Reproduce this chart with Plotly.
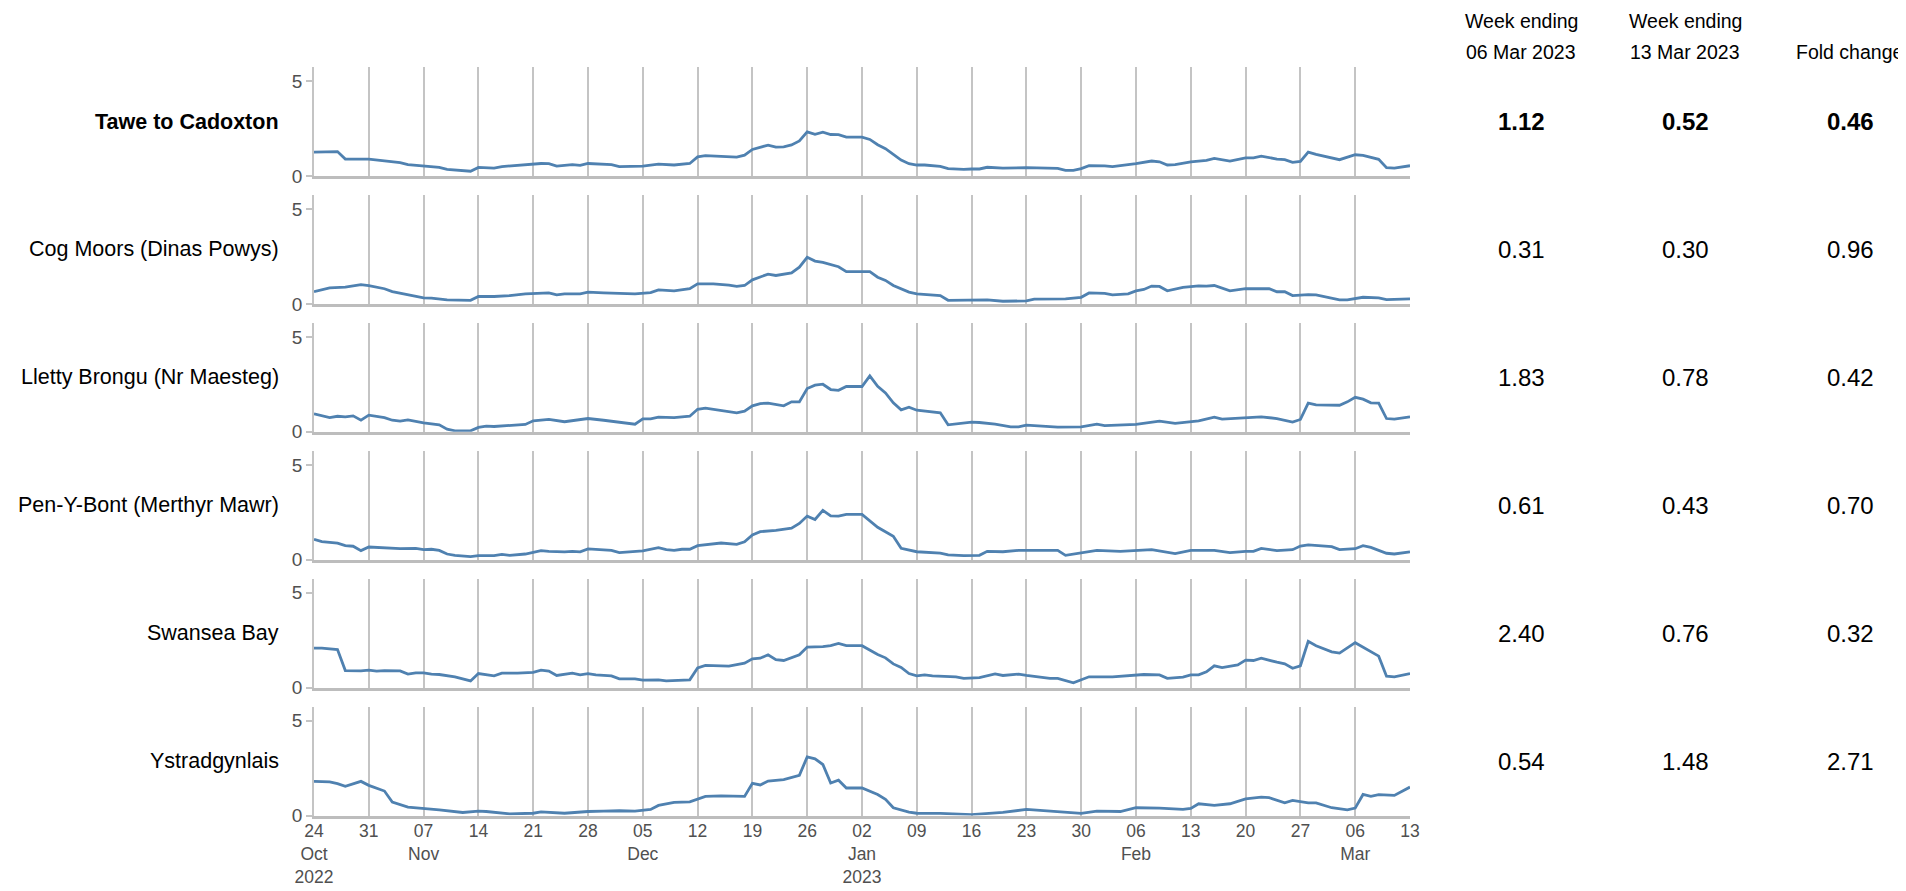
import pandas as pd
import plotly.graph_objects as go

# ---------------- data ----------------
start_date = "2022-10-24"
end_date = "2023-03-13"

sites = ["Tawe to Cadoxton", "Cog Moors (Dinas Powys)", "Lletty Brongu (Nr Maesteg)",
         "Pen-Y-Bont (Merthyr Mawr)", "Swansea Bay", "Ystradgynlais"]

# day offsets from 24 Oct 2022 and values
tawe_days = [0,3,4,7,9,11,12,14,16,17,20,21,23,24,28,29,30,31,33,34,35,38,39,42,44,46,48,49,50,54,
             55,56,58,59,60,61,62,63,64,65,66,67,68,70,71,72,73,75,76,77,78,80,81,83,84,85,86,88,91,95,
             96,97,98,99,101,102,105,107,108,109,110,112,114,115,117,119,120,121,123,124,125,126,127,128,131,132,133,134,136,137,
             138,140]
tawe_vals = [1.26,1.29,0.89,0.89,0.80,0.70,0.60,0.54,0.45,0.35,0.25,0.45,0.42,0.50,0.63,0.66,0.65,0.52,0.60,0.56,
             0.66,0.60,0.49,0.52,0.63,0.58,0.66,1.01,1.07,1.00,1.10,1.40,1.63,1.52,1.54,1.64,1.85,2.33,2.20,2.31,
             2.19,2.18,2.05,2.05,1.93,1.65,1.44,0.84,0.65,0.58,0.58,0.51,0.39,0.35,0.37,0.37,0.46,0.42,0.44,0.40,
             0.30,0.30,0.39,0.54,0.53,0.49,0.65,0.79,0.75,0.58,0.60,0.75,0.82,0.93,0.79,0.96,0.96,1.05,0.89,0.86,
             0.72,0.77,1.26,1.14,0.86,0.98,1.12,1.09,0.88,0.44,0.42,0.54]

cog_days = [0,2,4,6,7,9,10,12,14,15,17,20,21,23,25,27,30,31,32,34,35,37,39,41,43,44,46,48,49,51,
            53,54,55,56,58,59,61,62,63,64,65,66,67,68,71,72,73,74,76,77,80,81,84,86,88,91,92,96,98,99,
            101,102,104,105,106,107,108,109,111,113,114,115,117,119,122,123,124,125,127,128,131,132,134,136,137,140]
cog_vals = [0.65,0.85,0.88,1.02,0.97,0.80,0.65,0.48,0.32,0.30,0.21,0.19,0.39,0.39,0.44,0.53,0.58,0.48,0.53,0.53,
            0.62,0.58,0.55,0.53,0.60,0.74,0.69,0.80,1.06,1.06,0.99,0.92,0.97,1.27,1.57,1.50,1.64,1.94,2.46,2.26,
            2.19,2.08,1.96,1.70,1.70,1.41,1.24,0.97,0.62,0.53,0.44,0.19,0.19,0.21,0.14,0.16,0.25,0.27,0.35,0.58,
            0.55,0.48,0.53,0.69,0.76,0.94,0.92,0.69,0.87,0.95,0.94,0.97,0.69,0.80,0.80,0.64,0.64,0.44,0.49,0.48,
            0.21,0.21,0.35,0.32,0.23,0.27]

lletty_days = [0,2,3,4,5,6,7,9,10,11,12,14,16,17,18,20,21,22,23,25,27,28,30,32,34,35,37,39,41,42,
               43,44,46,48,49,50,52,53,54,55,56,57,58,60,61,62,63,64,65,66,67,68,70,71,72,73,74,75,76,77,
               79,80,81,83,84,85,87,89,90,91,94,95,98,100,101,104,105,108,110,113,115,116,119,121,123,125,126,127,128,130,
               131,132,133,134,135,136,137,138,140]
lletty_vals = [0.95,0.75,0.82,0.79,0.84,0.61,0.88,0.75,0.61,0.56,0.63,0.47,0.37,0.14,0.05,0.05,0.23,0.30,0.28,0.33,
               0.39,0.58,0.65,0.53,0.63,0.70,0.61,0.49,0.40,0.68,0.68,0.77,0.75,0.82,1.19,1.25,1.12,1.05,1.00,1.09,
               1.37,1.49,1.51,1.37,1.58,1.58,2.28,2.46,2.51,2.23,2.19,2.39,2.39,2.95,2.40,2.05,1.53,1.16,1.30,1.14,
               1.02,1.00,0.37,0.44,0.51,0.49,0.40,0.26,0.26,0.35,0.30,0.25,0.26,0.40,0.33,0.37,0.39,0.56,0.44,0.58,
               0.77,0.67,0.75,0.79,0.70,0.51,0.65,1.51,1.42,1.39,1.40,1.58,1.82,1.72,1.53,1.51,0.70,0.67,0.79]

pen_days = [0,1,3,4,5,6,7,9,11,13,14,15,16,17,18,20,21,23,24,25,27,29,30,32,33,34,35,38,39,42,
            44,45,46,47,48,49,52,54,55,56,57,59,61,62,63,64,65,66,67,68,70,72,74,75,77,80,81,83,85,86,
            88,90,93,95,96,98,100,103,105,107,110,112,115,117,119,120,121,123,125,126,127,130,131,133,134,135,137,138,140]
pen_vals = [1.08,0.95,0.87,0.74,0.71,0.48,0.67,0.64,0.58,0.60,0.53,0.55,0.49,0.30,0.23,0.16,0.21,0.21,0.28,0.23,
            0.30,0.48,0.44,0.41,0.44,0.41,0.57,0.49,0.37,0.46,0.64,0.53,0.49,0.55,0.55,0.74,0.88,0.81,0.94,1.31,
            1.48,1.55,1.66,1.91,2.30,2.12,2.60,2.31,2.30,2.39,2.39,1.71,1.24,0.60,0.42,0.35,0.25,0.21,0.23,0.44,
            0.42,0.49,0.48,0.49,0.23,0.35,0.49,0.44,0.48,0.53,0.32,0.49,0.49,0.37,0.44,0.44,0.60,0.48,0.53,0.72,
            0.78,0.69,0.53,0.58,0.74,0.65,0.34,0.30,0.41]

swansea_days = [0,1,3,4,6,7,8,9,11,12,13,14,15,16,18,20,21,23,24,26,28,29,30,31,33,34,35,36,38,39,
                41,42,44,45,48,49,50,53,55,56,57,58,59,60,62,63,65,66,67,68,70,72,73,74,75,76,77,78,79,82,
                83,85,87,88,90,91,94,95,97,99,102,104,106,108,109,111,112,113,114,115,116,118,119,120,121,123,124,125,126,127,
                128,130,131,133,135,136,137,138,140]
swansea_vals = [2.08,2.08,2.01,0.90,0.88,0.92,0.87,0.90,0.88,0.71,0.78,0.78,0.71,0.69,0.57,0.35,0.74,0.62,0.76,0.76,
                0.80,0.92,0.87,0.64,0.76,0.67,0.74,0.67,0.62,0.46,0.46,0.39,0.41,0.35,0.41,1.04,1.17,1.13,1.29,1.52,
                1.55,1.73,1.47,1.43,1.73,2.14,2.16,2.21,2.33,2.21,2.21,1.75,1.57,1.25,1.06,0.74,0.62,0.67,0.62,0.57,
                0.49,0.53,0.72,0.64,0.71,0.64,0.49,0.49,0.25,0.57,0.57,0.64,0.69,0.67,0.49,0.55,0.67,0.67,0.83,1.15,
                1.06,1.20,1.45,1.43,1.55,1.34,1.25,1.02,1.15,2.44,2.21,1.89,1.82,2.37,1.87,1.66,0.60,0.57,0.74]

ystrad_days = [0,2,3,4,6,7,9,10,12,14,16,19,21,22,25,28,29,32,35,37,39,41,43,44,46,48,50,52,55,56,
               57,58,60,62,63,64,65,66,67,68,70,72,73,74,76,77,80,84,88,91,94,98,100,103,105,108,111,112,113,115,
               117,119,121,122,124,125,127,128,130,132,133,134,135,136,138,140]
ystrad_vals = [1.80,1.77,1.68,1.54,1.80,1.59,1.29,0.71,0.44,0.39,0.30,0.16,0.23,0.21,0.09,0.12,0.19,0.12,0.21,0.23,
               0.25,0.23,0.32,0.53,0.69,0.72,1.01,1.04,1.01,1.70,1.61,1.82,1.89,2.12,3.09,2.99,2.69,1.71,1.86,1.45,
               1.45,1.11,0.85,0.41,0.18,0.12,0.11,0.05,0.16,0.32,0.23,0.11,0.23,0.21,0.41,0.39,0.32,0.37,0.62,0.53,
               0.62,0.88,0.97,0.94,0.67,0.80,0.67,0.67,0.41,0.30,0.39,1.11,1.01,1.10,1.06,1.50]

week1_vals = [1.12, 0.31, 1.83, 0.61, 2.40, 0.54]
week2_vals = [0.52, 0.30, 0.78, 0.43, 0.76, 1.48]
fold_vals = [0.46, 0.96, 0.42, 0.70, 0.32, 2.71]

tick_labels = ["24<br>Oct<br>2022", "31", "07<br>Nov", "14", "21", "28", "05<br>Dec", "12", "19", "26",
               "02<br>Jan<br>2023", "09", "16", "23", "30", "06<br>Feb", "13", "20", "27", "06<br>Mar", "13"]

header_line1 = ["Week ending", "Week ending", ""]
header_line2 = ["06 Mar 2023", "13 Mar 2023", "Fold change"]

series = [(tawe_days, tawe_vals), (cog_days, cog_vals), (lletty_days, lletty_vals),
          (pen_days, pen_vals), (swansea_days, swansea_vals), (ystrad_days, ystrad_vals)]

# ---------------- styling ----------------
VIEW_W, VIEW_H = 1906, 891
OFF = 8                      # default page body margin
W, H = VIEW_W - OFF, VIEW_H - OFF
FONT = "Liberation Sans, Arial, Helvetica, sans-serif"
LINE = "#4f81b0"
GRID = "#c4c4c4"
TXT = "#000000"
TICK = "#505050"


def px_x(X):
    return (X - OFF) / W


def px_y(Y):
    return 1 - (Y - OFF) / H


x_dom = [px_x(314), px_x(1410)]
panel_px = 109
first_zero_px = 176
step_px = 127.9

start = pd.Timestamp(start_date)
end = pd.Timestamp(end_date)
tick_vals = pd.date_range(start, end, freq="7D")

fig = go.Figure()
layout = dict(width=W, height=H, margin=dict(l=0, r=0, t=0, b=0, autoexpand=False),
              paper_bgcolor="white", plot_bgcolor="white", showlegend=False,
              font=dict(family=FONT, color=TXT))
annotations = []

for i, (days, vals) in enumerate(series):
    k = "" if i == 0 else str(i + 1)
    xs = start + pd.to_timedelta(days, unit="D")
    fig.add_trace(go.Scatter(x=xs, y=vals, mode="lines", line=dict(color=LINE, width=2.8),
                             xaxis="x" + k, yaxis="y" + k, hoverinfo="skip"))
    zero_px = first_zero_px + i * step_px
    last = i == len(series) - 1
    layout["xaxis" + k] = dict(
        domain=x_dom, anchor="y" + k, range=[start, end],
        tickmode="array", tickvals=tick_vals, ticktext=tick_labels,
        showticklabels=last, ticks="", automargin=False, ticklabelstandoff=-2,
        tickfont=dict(size=17.5, color=TICK, family=FONT),
        showgrid=True, gridcolor=GRID, gridwidth=1.5,
        showline=True, linecolor="#bdbdbd", linewidth=2.5,
        zeroline=False, fixedrange=True,
        **({} if i == 0 else {"matches": "x"}))
    layout["yaxis" + k] = dict(
        domain=[px_y(zero_px), px_y(zero_px - panel_px)], anchor="x" + k, range=[0, 5.75],
        tickmode="array", tickvals=[0, 5], ticktext=["0", "5"],
        ticks="outside", ticklen=6, tickcolor=GRID, tickwidth=1.5,
        tickfont=dict(size=19, color=TICK, family=FONT), automargin=False,
        showgrid=False, zeroline=False,
        showline=True, linecolor=GRID, linewidth=1.5, fixedrange=True)

    mid = px_y(zero_px - panel_px / 2)
    bold = i == 0
    annotations.append(dict(xref="paper", yref="paper", x=px_x(281), y=mid, xanchor="right", yanchor="middle",
                            text=f"<b>{sites[i]}</b>" if bold else sites[i], showarrow=False,
                            font=dict(size=21.5, color=TXT, family=FONT)))
    for cx, v in zip([1521, 1685, 1850], [week1_vals[i], week2_vals[i], fold_vals[i]]):
        t = f"{v:.2f}"
        annotations.append(dict(xref="paper", yref="paper", x=px_x(cx), y=mid, xanchor="center", yanchor="middle",
                                text=f"<b>{t}</b>" if bold else t, showarrow=False,
                                font=dict(size=24, color=TXT, family=FONT)))

for cx, l1, l2 in zip([1521, 1685, 1849], header_line1, header_line2):
    if l1:
        annotations.append(dict(xref="paper", yref="paper", x=px_x(cx), y=px_y(21), xanchor="center",
                                yanchor="middle", text=l1, showarrow=False,
                                font=dict(size=19.5, color=TXT, family=FONT)))
    annotations.append(dict(xref="paper", yref="paper", x=px_x(cx), y=px_y(52), xanchor="center",
                            yanchor="middle", text=l2, showarrow=False,
                            font=dict(size=19.5, color=TXT, family=FONT)))

layout["annotations"] = annotations
fig.update_layout(**layout)
fig.write_html("out.html", config={"displayModeBar": False})
